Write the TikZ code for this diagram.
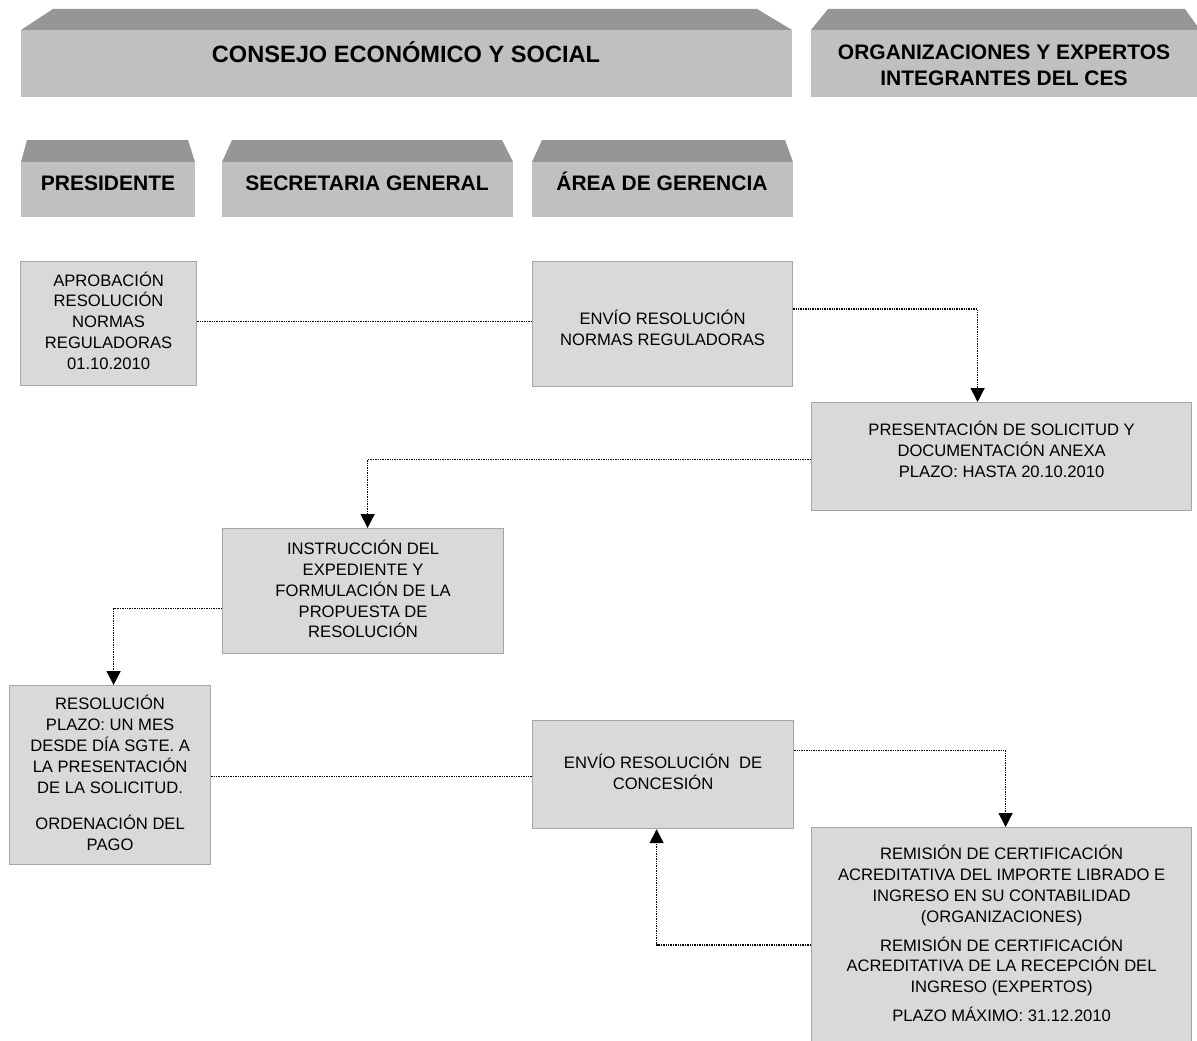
\documentclass[tikz,border=0pt]{standalone}
\usepackage{fontspec}
\setmainfont{Liberation Sans}
\usetikzlibrary{arrows.meta}
\definecolor{hdrfront}{HTML}{C0C0C0}
\definecolor{hdrtop}{HTML}{969696}
\definecolor{boxfill}{HTML}{D9D9D9}
\definecolor{boxline}{HTML}{A6A6A6}
\begin{document}
\begin{tikzpicture}[x=1pt,y=-1pt,
 box/.style={draw=boxline, fill=boxfill, line width=1.2pt, anchor=north west, inner sep=0pt},
 boxtext/.style={inner sep=0pt, align=center, font=\fontsize{16.6}{20.8}\selectfont},
 hdrtext/.style={font=\bfseries\fontsize{21}{26}\selectfont, align=center, inner sep=0pt},
 conn/.style={densely dotted, line width=1.4pt},
 arr/.style={conn, -{Triangle[width=14pt,length=14pt]}}
]
\useasboundingbox (0,0) rectangle (1197,1041);
% header bars
\fill[hdrtop] (21,30) -- (53,9) -- (757,9) -- (792,30) -- cycle;
\fill[hdrfront] (21,30) rectangle (792,97);
\fill[hdrtop] (811,30) -- (828,9) -- (1185,9) -- (1200,30) -- cycle;
\fill[hdrfront] (811,30) rectangle (1200,97);
\fill[hdrtop] (21,162) -- (27,140) -- (188,140) -- (195,162) -- cycle;
\fill[hdrfront] (21,162) rectangle (195,217);
\fill[hdrtop] (222,162) -- (232,140) -- (502,140) -- (513,162) -- cycle;
\fill[hdrfront] (222,162) rectangle (513,217);
\fill[hdrtop] (532,162) -- (542,140) -- (785,140) -- (793,162) -- cycle;
\fill[hdrfront] (532,162) rectangle (793,217);
\node[hdrtext, font=\bfseries\fontsize{23.6}{28}\selectfont] (hces) at (406,52) {CONSEJO ECONÓMICO Y SOCIAL};
\node[hdrtext] (horg) at (1004,65) {ORGANIZACIONES Y EXPERTOS\\INTEGRANTES DEL CES};
\node[hdrtext] (hpres) at (108,183) {PRESIDENTE};
\node[hdrtext] (hsec) at (367,183) {SECRETARIA GENERAL};
\node[hdrtext] (harea) at (662,181) {ÁREA DE GERENCIA};
% boxes
\node[box, minimum width=176pt, minimum height=124pt] (b1) at (20,261) {};
\node[boxtext, yshift=3pt] (t1) at (b1.center)
 {APROBACIÓN\\RESOLUCIÓN\\NORMAS\\REGULADORAS\\01.10.2010};
\node[box, minimum width=260pt, minimum height=125pt] (b2) at (532,261) {};
\node[boxtext, yshift=-4pt] (t2) at (b2.center)
 {ENVÍO RESOLUCIÓN\\NORMAS REGULADORAS};
\node[box, minimum width=380pt, minimum height=108pt] (b3) at (811,402) {};
\node[boxtext, yshift=7pt] (t3) at (b3.center)
 {PRESENTACIÓN DE SOLICITUD Y\\DOCUMENTACIÓN ANEXA\\PLAZO: HASTA 20.10.2010};
\node[box, minimum width=281pt, minimum height=125pt] (b4) at (222,528) {};
\node[boxtext, yshift=2pt] (t4) at (b4.center)
 {INSTRUCCIÓN DEL\\EXPEDIENTE Y\\FORMULACIÓN DE LA\\PROPUESTA DE\\RESOLUCIÓN};
\node[box, minimum width=201pt, minimum height=179pt] (b5) at (9,685) {};
\node[boxtext, yshift=2pt] (t5) at (b5.center)
 {RESOLUCIÓN\\PLAZO: UN MES\\DESDE DÍA SGTE. A\\LA PRESENTACIÓN\\DE LA SOLICITUD.\\[16pt]ORDENACIÓN DEL\\PAGO};
\node[box, minimum width=261pt, minimum height=108pt] (b6) at (532,720) {};
\node[boxtext, yshift=3pt] (t6) at (b6.center)
 {ENVÍO RESOLUCIÓN\ \ DE\\CONCESIÓN};
\node[box, minimum width=380pt, minimum height=226pt] (b7) at (811,827) {};
\node[boxtext, yshift=7pt] (t7) at (b7.center)
 {REMISIÓN DE CERTIFICACIÓN\\ACREDITATIVA DEL IMPORTE LIBRADO E\\INGRESO EN SU CONTABILIDAD\\(ORGANIZACIONES)\\[8pt]REMISIÓN DE CERTIFICACIÓN\\ACREDITATIVA DE LA RECEPCIÓN DEL\\INGRESO (EXPERTOS)\\[8pt]PLAZO MÁXIMO: 31.12.2010};
% connectors
\draw[conn] ([yshift=2pt]b1.east) -- ([yshift=2pt]b1.east -| b2.west);
\draw[arr] ([yshift=15pt]b2.east) -| ([xshift=-24pt]b3.north);
\draw[arr] ([yshift=-3pt]b3.west) -| ([xshift=4.5pt]b4.north);
\draw[arr] ([yshift=-17.5pt]b4.west) -| ([xshift=3.5pt]b5.north);
\draw[conn] ([yshift=-1.5pt]b5.east) -- ([yshift=-1.5pt]b5.east -| b6.west);
\draw[arr] ([yshift=24pt]b6.east) -| ([xshift=4pt]b7.north);
\draw[arr] ([yshift=-4.5pt]b7.west) -| ([xshift=-6.5pt]b6.south);
\end{tikzpicture}
\end{document}
